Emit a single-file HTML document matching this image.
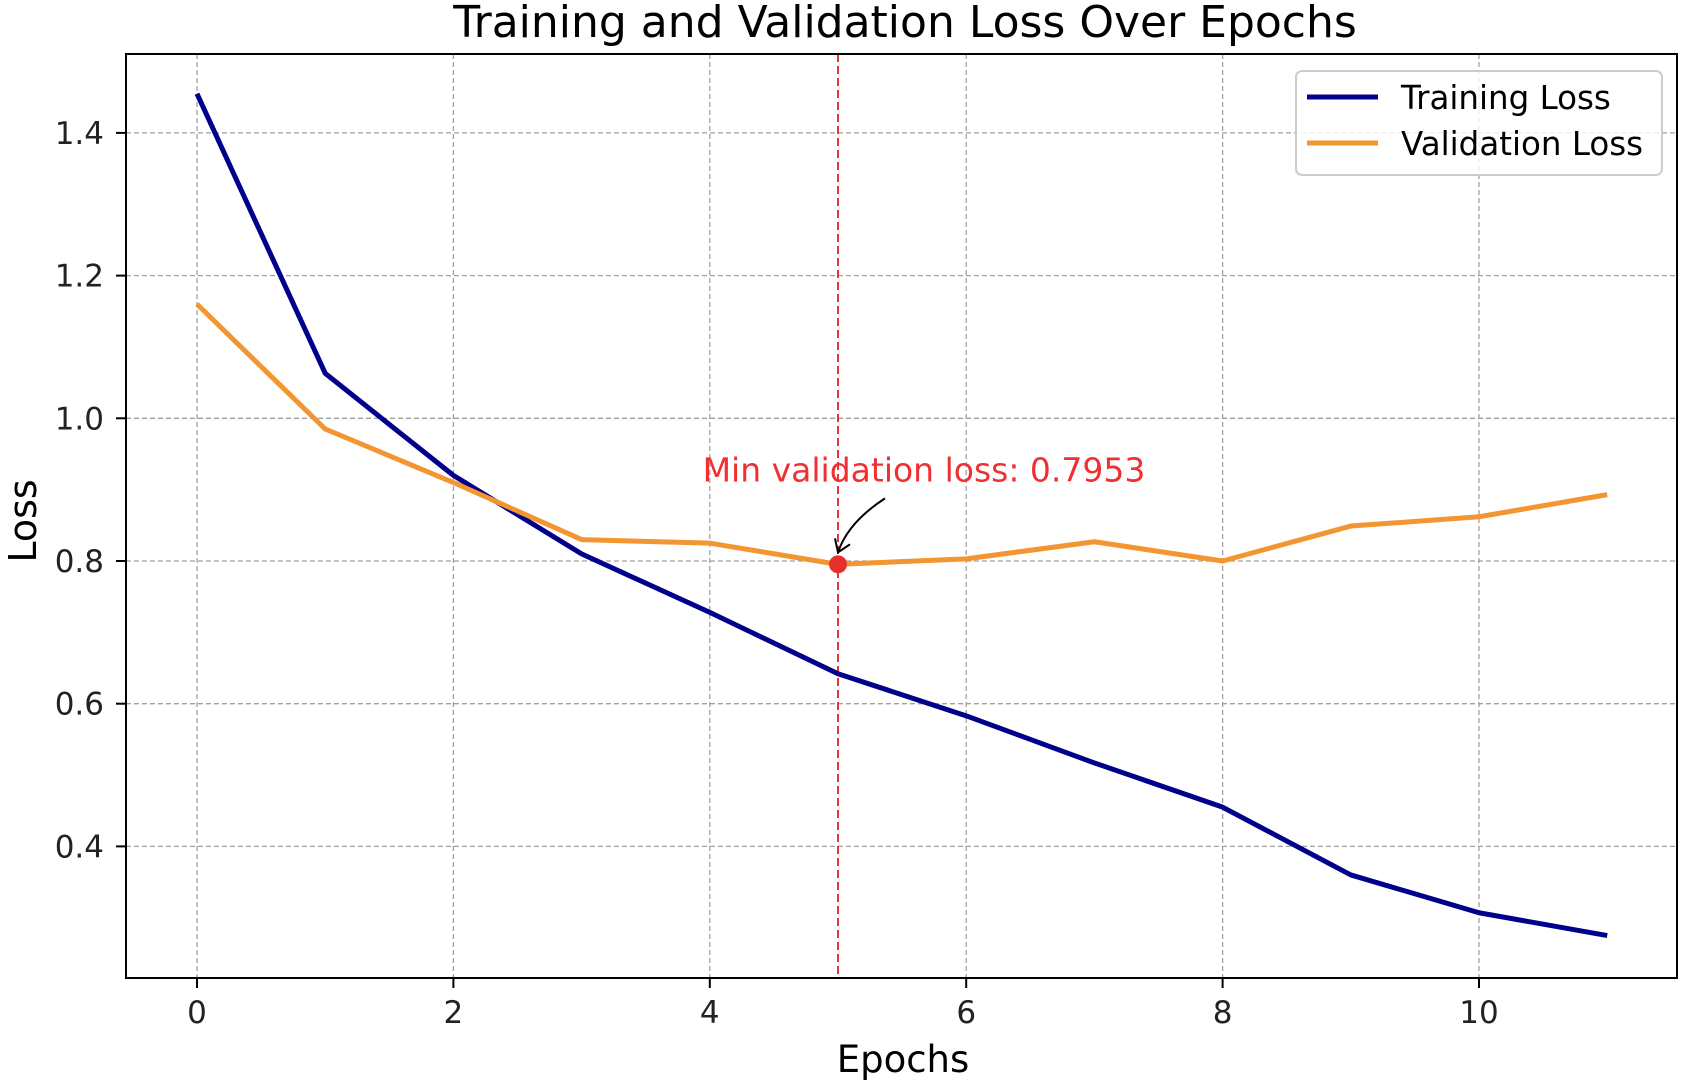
<!DOCTYPE html>
<html><head><meta charset="utf-8"><style>
html,body{margin:0;padding:0;background:#fff;}
svg{display:block;font-family:"DejaVu Sans","Liberation Sans",sans-serif;}
</style></head><body>
<svg id="chart" width="1688" height="1084" xmlns="http://www.w3.org/2000/svg">
<text x="905" y="37" font-size="44" text-anchor="middle" fill="#000">Training and Validation Loss Over Epochs</text>
<g id="grid"></g>
<g id="ticks"></g>
<g id="series"></g>
<rect x="126" y="54" width="1551" height="924" fill="none" stroke="#000" stroke-width="2"/>
<text x="903" y="1072" font-size="37" text-anchor="middle">Epochs</text>
<text x="0" y="0" font-size="38" text-anchor="middle" transform="translate(36,521) rotate(-90)">Loss</text>
<g>
<rect x="1296" y="71" width="366" height="104" rx="6" fill="#fff" fill-opacity="0.8" stroke="#ccc" stroke-width="2"/>
<line x1="1307" y1="97" x2="1378" y2="97" stroke="#00008b" stroke-width="5"/>
<text x="1401" y="109" font-size="32.5">Training Loss</text>
<line x1="1307" y1="143" x2="1378" y2="143" stroke="#f39530" stroke-width="5"/>
<text x="1401" y="155" font-size="32.5">Validation Loss</text>
</g>
</svg>
<script>
const epochs=[0,1,2,3,4,5,6,7,8,9,10,11];
const trainLoss=[1.455,1.063,0.92,0.81,0.728,0.642,0.583,0.517,0.455,0.36,0.307,0.275];
const valLoss=[1.16,0.985,0.91,0.83,0.825,0.7953,0.803,0.827,0.80,0.849,0.862,0.893];
const xTicks=[0,2,4,6,8,10];
const yTicks=[0.4,0.6,0.8,1.0,1.2,1.4];
const minEpoch=5, minVal=0.7953;
const NS="http://www.w3.org/2000/svg";
const X=v=>197+v*128.2;
const Y=v=>561-(v-0.8)*713.5;
function mk(tag,attrs,parent){const e=document.createElementNS(NS,tag);for(const k in attrs)e.setAttribute(k,attrs[k]);parent.appendChild(e);return e;}
const grid=document.getElementById('grid'),ticks=document.getElementById('ticks'),series=document.getElementById('series');
xTicks.forEach(t=>{
 const g=mk('line',{x1:X(t),x2:X(t),y1:54,y2:978,stroke:'#a0a0a0','stroke-width':1.3,'stroke-dasharray':'5,3'},grid);
 
 
 const tk=mk('line',{x1:X(t),x2:X(t),y1:978,y2:988,stroke:'#000','stroke-width':2},ticks);
 
 
 const tx=mk('text',{x:X(t),y:1023,'font-size':31,'text-anchor':'middle',fill:'#222'},ticks);
 tx.textContent=t;
 
 
});
yTicks.forEach(t=>{
 const g=mk('line',{x1:126,x2:1677,y1:Y(t),y2:Y(t),stroke:'#a0a0a0','stroke-width':1.3,'stroke-dasharray':'5,3'},grid);
 
 
 const tk=mk('line',{x1:116,x2:126,y1:Y(t),y2:Y(t),stroke:'#000','stroke-width':2},ticks);
 
 
 const tx=mk('text',{x:104,y:Y(t)+11,'font-size':31,'text-anchor':'end',fill:'#222'},ticks);
 tx.textContent=t.toFixed(1);
 
 
});
const vline=mk('line',{x1:X(minEpoch),x2:X(minEpoch),y1:54,y2:978,stroke:'#f03030','stroke-width':2,'stroke-dasharray':'8,4'},series);


const tl=mk('polyline',{points:epochs.map((e,i)=>X(e)+','+Y(trainLoss[i])).join(' '),fill:'none',stroke:'#00008b','stroke-width':5,'stroke-linejoin':'round'},series);


const vl=mk('polyline',{points:epochs.map((e,i)=>X(e)+','+Y(valLoss[i])).join(' '),fill:'none',stroke:'#f39530','stroke-width':5,'stroke-linejoin':'round'},series);


const dot=mk('circle',{cx:X(minEpoch),cy:Y(minVal),r:9,fill:'#e8302a'},series);


const ax=X(minEpoch),ay=Y(minVal)-12;
const arrow=mk('path',{d:`M ${ax+47} ${ay-54} Q ${ax+10} ${ay-30} ${ax} ${ay}`,fill:'none',stroke:'#000','stroke-width':2},series);


const head=mk('path',{d:`M ${ax-3} ${ay-14} L ${ax} ${ay} L ${ax+12} ${ay-8}`,fill:'none',stroke:'#000','stroke-width':2},series);


const ann=mk('text',{x:ax+86,y:ay-71,'font-size':33,'text-anchor':'middle',fill:'#f03030'},series);
ann.textContent='Min validation loss: '+minVal.toFixed(4);


</script>
</body></html>
